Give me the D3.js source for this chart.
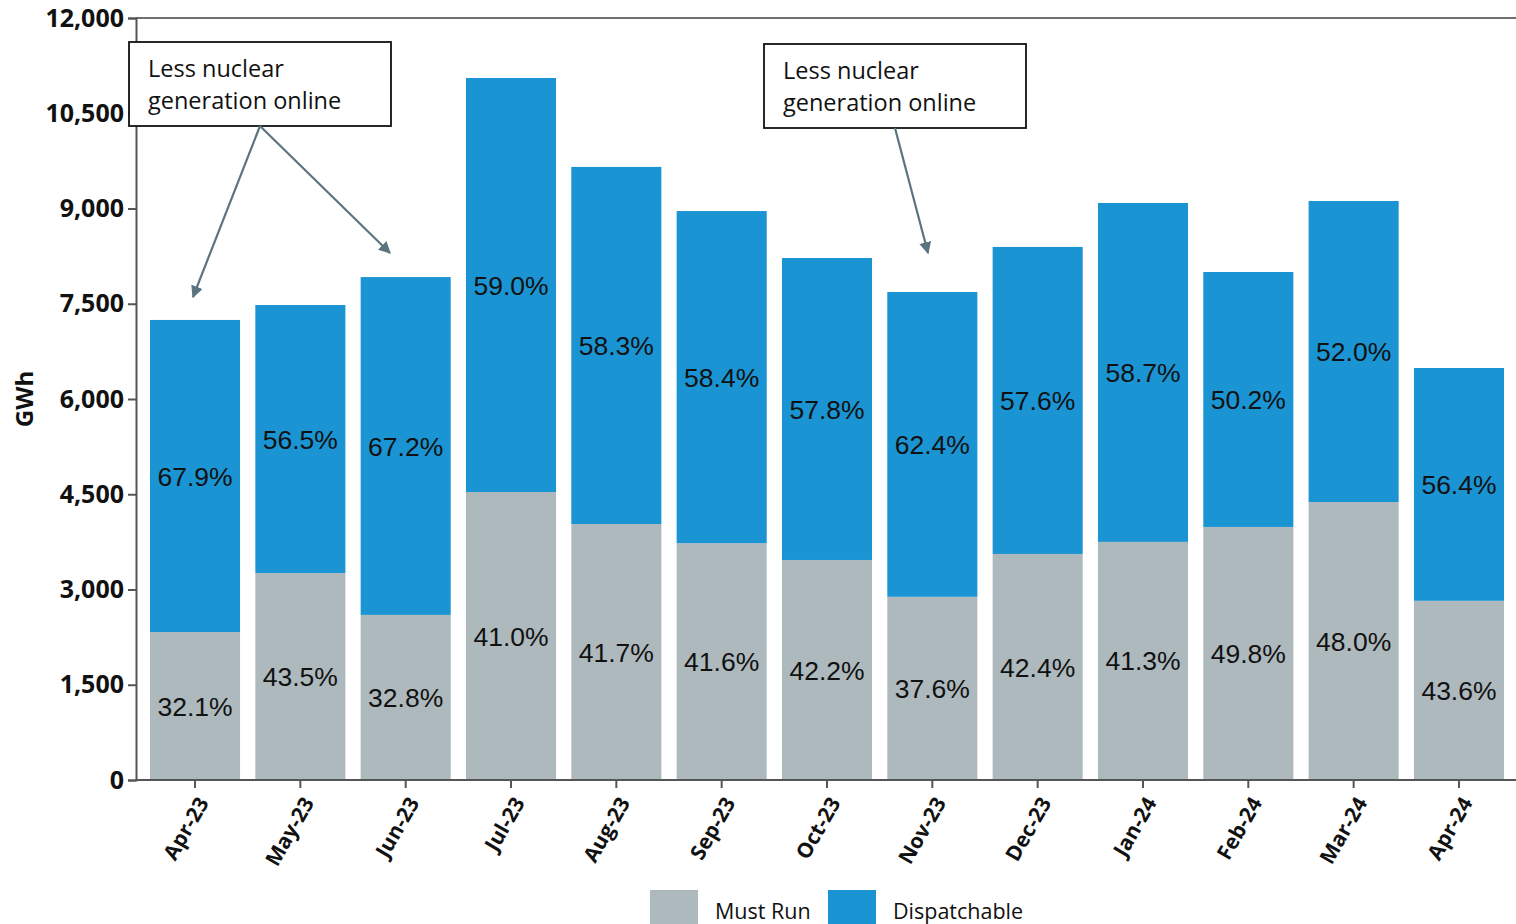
<!DOCTYPE html>
<html><head><meta charset="utf-8">
<script src="https://cdn.jsdelivr.net/npm/d3@7"></script>
<style>body{margin:0;background:#fff}svg{display:block}</style>
</head><body>
<svg id="c" width="1516" height="924"></svg>
<script>
const months = ["Apr-23","May-23","Jun-23","Jul-23","Aug-23","Sep-23","Oct-23","Nov-23","Dec-23","Jan-24","Feb-24","Mar-24","Apr-24"];
const mustRun = [2330,3260,2600,4535,4030,3730,3465,2885,3560,3750,3985,4378,2822];
const dispatchable = [4915,4220,5320,6520,5625,5230,4755,4800,4835,5337,4015,4740,3666];
const mustRunPct = ["32.1%","43.5%","32.8%","41.0%","41.7%","41.6%","42.2%","37.6%","42.4%","41.3%","49.8%","48.0%","43.6%"];
const dispPct = ["67.9%","56.5%","67.2%","59.0%","58.3%","58.4%","57.8%","62.4%","57.6%","58.7%","50.2%","52.0%","56.4%"];
const yTicks = [0,1500,3000,4500,6000,7500,9000,10500,12000];
const seriesNames = ["Must Run","Dispatchable"];
const colors = ["#adb9bd","#1a94d3"];

const svg = d3.select("#c");
const x = d3.scaleBand().domain(months).range([150,1504]).paddingInner(0.145).paddingOuter(0.0);
const y = d3.scaleLinear().domain([0,12000]).range([780,18]);

// bars
const g = svg.append("g");
months.forEach((m,i)=>{
  const mr = mustRun[i], dp = dispatchable[i];
  g.append("rect").attr("x",x(m)).attr("width",x.bandwidth()).attr("y",y(mr)).attr("height",y(0)-y(mr)).attr("fill",colors[0]);
  g.append("rect").attr("x",x(m)).attr("width",x.bandwidth()).attr("y",y(mr+dp)).attr("height",y(mr)-y(mr+dp)).attr("fill",colors[1]);
  const cx = x(m)+x.bandwidth()/2;
  g.append("text").attr("x",cx).attr("y",(y(0)+y(mr))/2).attr("dy","0.36em").attr("text-anchor","middle")
    .attr("font-family","Liberation Sans, Arial").attr("font-size",26.5).attr("fill","#111").text(mustRunPct[i]);
  g.append("text").attr("x",cx).attr("y",(y(mr)+y(mr+dp))/2).attr("dy","0.36em").attr("text-anchor","middle")
    .attr("font-family","Liberation Sans, Arial").attr("font-size",26.5).attr("fill","#111").text(dispPct[i]);
});

// top frame line
svg.append("line").attr("x1",136).attr("x2",1516).attr("y1",y(12000)).attr("y2",y(12000)).attr("stroke","#707070").attr("stroke-width",2);

// y axis
const ya = svg.append("g").attr("transform","translate(136,0)")
  .call(d3.axisLeft(y).tickValues(yTicks).tickSize(8).tickPadding(4).tickFormat(d3.format(",")));
ya.select(".domain").attr("stroke","#555").attr("stroke-width",2);
ya.selectAll(".tick line").attr("stroke","#555").attr("stroke-width",2);
ya.selectAll("text").attr("font-family","Open Sans, sans-serif").attr("font-weight","bold").attr("font-size",25).attr("fill","#111");

// x axis
const xa = svg.append("g").attr("transform","translate(0,780)")
  .call(d3.axisBottom(x).tickSize(8).tickSizeOuter(0));
xa.select(".domain").attr("stroke","#555").attr("stroke-width",2).attr("d","M136,0H1516");
xa.selectAll(".tick line").attr("stroke","#555").attr("stroke-width",2);
xa.selectAll("text").attr("font-family","Open Sans, sans-serif").attr("font-weight","bold").attr("font-size",21).attr("fill","#111")
  .attr("text-anchor","end").attr("transform","translate(8,19) rotate(-60)").attr("dy","0.35em").attr("y",0);

// y title
svg.append("text").attr("transform","translate(33,399) rotate(-90)").attr("text-anchor","middle")
  .attr("font-family","Open Sans, sans-serif").attr("font-weight","bold").attr("font-size",24).attr("fill","#111").text("GWh");

// annotations
const defs = svg.append("defs");
defs.append("marker").attr("id","ah").attr("viewBox","0 0 10 10").attr("refX",9).attr("refY",5)
  .attr("markerWidth",5.5).attr("markerHeight",5.5).attr("orient","auto")
  .append("path").attr("d","M0,0L10,5L0,10z").attr("fill","#5c7480");
function annot(bx,by,bw,bh,arrows){
  svg.append("rect").attr("x",bx).attr("y",by).attr("width",bw).attr("height",bh).attr("fill","#fff").attr("stroke","#111").attr("stroke-width",1.8);
  svg.append("text").attr("x",bx+19).attr("y",by+35).attr("font-family","Open Sans, sans-serif").attr("font-size",23.5).attr("fill","#111").text("Less nuclear");
  svg.append("text").attr("x",bx+19).attr("y",by+67).attr("font-family","Open Sans, sans-serif").attr("font-size",23.5).attr("fill","#111").text("generation online");
  arrows.forEach(a=>{
    svg.append("line").attr("x1",a[0]).attr("y1",a[1]).attr("x2",a[2]).attr("y2",a[3]).attr("stroke","#5c7480").attr("stroke-width",2.2).attr("marker-end","url(#ah)");
  });
}
annot(129,42,262,84,[[260,126,193,297],[260,126,390,253]]);
annot(764,44,262,84,[[895,128,928,253]]);

// legend
const lg = svg.append("g");
const legX = [650,828];
seriesNames.forEach((n,i)=>{
  lg.append("rect").attr("x",legX[i]).attr("y",890).attr("width",48).attr("height",40).attr("fill",colors[i]);
  lg.append("text").attr("x",legX[i]+65).attr("y",919).attr("font-family","Open Sans, sans-serif").attr("font-size",21.5).attr("fill","#111").text(n);
});
</script>
</body></html>
